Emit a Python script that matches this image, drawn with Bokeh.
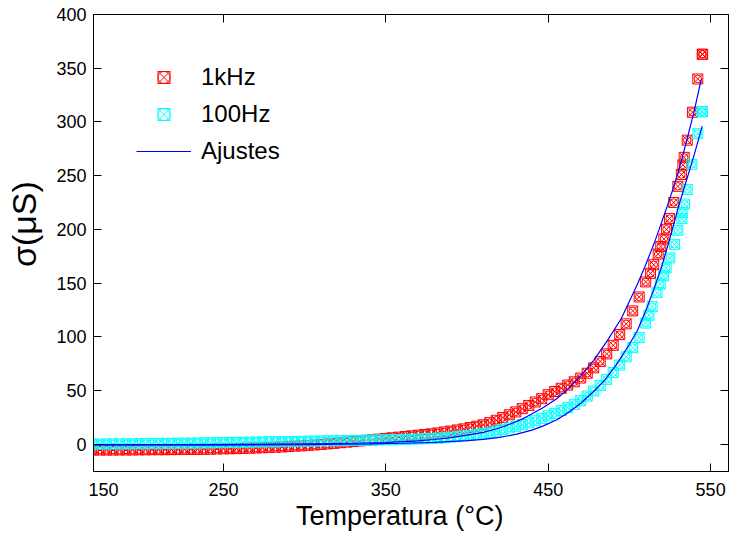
from bokeh.plotting import figure
from bokeh.models import (Range1d, FixedTicker, LinearAxis, Legend, LegendItem,
                          CustomLabelingPolicy)
from bokeh.embed import file_html
from bokeh.resources import INLINE

# ---------------- data ----------------
T_1k = [170, 174, 178, 182, 186, 190, 194, 198, 202, 206, 210, 214, 218, 222, 226, 230,
        234, 238, 242, 246, 250, 254, 258, 262, 266, 270, 274, 278, 282, 286, 290, 294,
        298, 302, 306, 310, 314, 318, 322, 326, 330, 334, 338, 342, 346, 350, 354, 358,
        362, 366, 370, 374, 378, 382, 386, 390, 394, 398, 402, 406, 410, 414, 418, 422,
        426, 430, 434, 438, 442, 446, 450, 454, 458, 462, 466, 470, 474, 478, 482, 486,
        490, 494, 498, 502, 506, 510, 513, 515, 517.7, 519.3, 521.2, 522.8, 524.7, 527.3,
        529.8, 532, 532.9, 533.7, 535.6, 538.8, 542.1, 544.8, 545.1]
S_1k = [-5.5, -5.5, -5.5, -5.5, -5.4, -5.4, -5.4, -5.3, -5.3, -5.2, -5.2, -5.2, -5.1, -5.1, -5.0, -5.0,
        -4.9, -4.8, -4.7, -4.5, -4.4, -4.3, -4.2, -4.0, -3.8, -3.6, -3.4, -3.1, -2.9, -2.6, -2.3, -1.9,
        -1.6, -1.2, -0.8, -0.3, 0.2, 0.7, 1.3, 1.8, 2.4, 2.9, 3.5, 4.1, 4.7, 5.3, 5.9, 6.5,
        7.1, 7.7, 8.3, 9.0, 9.6, 10.4, 11.3, 12.2, 13.2, 14.2, 15.4, 16.7, 18.0, 20.0, 22.2, 24.7,
        27.3, 30.0, 33.0, 36.0, 39.2, 42.3, 46.0, 49.0, 52.0, 55.0, 58.0, 61.5, 66.0, 71.0, 77.0, 84.0,
        92.0, 102.0, 112.0, 124.0, 137.0, 151.0, 159, 167, 177, 184, 191, 200, 210, 225,
        240, 251, 260, 267, 283, 309, 340, 363, 363]

T_100 = [170, 174, 178, 182, 186, 190, 194, 198, 202, 206, 210, 214, 218, 222, 226, 230,
         234, 238, 242, 246, 250, 254, 258, 262, 266, 270, 274, 278, 282, 286, 290, 294,
         298, 302, 306, 310, 314, 318, 322, 326, 330, 334, 338, 342, 346, 350, 354, 358,
         362, 366, 370, 374, 378, 382, 386, 390, 394, 398, 402, 406, 410, 414, 418, 422,
         426, 430, 434, 438, 442, 446, 450, 454, 458, 462, 466, 470, 474, 478, 482, 486,
         490, 494, 498, 502, 506, 510, 512, 514, 517, 519, 521, 522.6, 524.9, 527.8,
         529.8, 532.3, 532.5, 533.9, 535.6, 538.4, 542.1, 544.6, 544.9]
S_100 = [0.0, 0.0, 0.1, 0.1, 0.2, 0.2, 0.3, 0.4, 0.4, 0.5, 0.6, 0.6, 0.7, 0.8, 0.9, 0.9,
         1.0, 1.1, 1.2, 1.3, 1.4, 1.5, 1.6, 1.7, 1.8, 1.9, 2.0, 2.1, 2.2, 2.3, 2.4, 2.5,
         2.6, 2.7, 2.8, 2.9, 3.0, 3.1, 3.2, 3.3, 3.4, 3.5, 3.6, 3.7, 3.9, 4.0, 4.1, 4.2,
         4.4, 4.6, 4.8, 5.0, 5.2, 5.5, 6.0, 6.5, 7.0, 7.6, 8.3, 9.1, 10.0, 11.0, 12.2, 13.6,
         15.0, 16.5, 18.1, 19.9, 21.8, 24.0, 26.3, 28.6, 31.2, 34.0, 37.0, 40.5, 44.7, 49.4, 54.6, 60.3,
         66.6, 73.6, 81.3, 89.8, 99.2, 112.7, 120, 128, 141, 149, 156.6, 164, 173.3, 186,
         199, 210, 215.5, 223.5, 237, 260.5, 289, 309.5, 309.5]

T_fit1 = [170, 250, 300, 330, 350, 370, 380, 390, 400, 410, 420, 427, 435, 447, 455, 462,
          470, 478, 487, 495, 500, 505, 510, 515, 519, 525, 530, 535, 540, 544.2]
S_fit1 = [-0.5, -0.4, 0.2, 0.8, 1.5, 3.0, 4.3, 6.0, 8.3, 11.0, 15.0, 19.0, 24.0, 34.0, 42.0, 51.0,
          63.5, 78.0, 97.7, 117.0, 133.0, 149.0, 167.0, 186.0, 203.0, 229.0, 253.0, 281.0, 311.0, 339.5]

T_fit2 = [170, 250, 300, 340, 360, 380, 400, 410, 420, 430, 440, 447, 455, 462, 470, 478,
          485, 492, 500, 505, 510, 515, 520, 525, 530.4, 535, 540, 544.8]
S_fit2 = [-0.8, -0.8, -0.5, 0.2, 0.8, 1.6, 3.2, 4.5, 6.2, 9.0, 13.0, 17.0, 22.5, 29.0, 38.0, 49.0,
          60.0, 74.0, 93.0, 106.0, 124.0, 144.0, 166.0, 192.0, 222.0, 245.0, 270.0, 296.0]

NB = "\u00a0"
x_ticks = [170, 250, 350, 450, 550]
x_tick_labels = {170: NB * 4 + "150"}
y_ticks = [0, 50, 100, 150, 200, 250, 300, 350, 400]

FONT = "Liberation Sans"
RED = "#FF0000"
CYAN = "#00FFFF"
BLUE = "#0000FF"

p = figure(width=729, height=533, output_backend="svg", toolbar_location=None,
           x_range=Range1d(170, 561), y_range=Range1d(-25.5, 400),
           min_border_left=93, min_border_right=1, min_border_top=14, min_border_bottom=61,
           background_fill_color="white", border_fill_color="white")
p.grid.visible = False
p.outline_line_color = "black"
p.outline_line_width = 1

# data markers: square with a circle and a cross
r1a = p.scatter(T_1k, S_1k, marker="square_x", size=10, fill_color=None, line_color=RED, line_width=1)
r1b = p.scatter(T_1k, S_1k, marker="circle", size=7.5, fill_color=None, line_color=RED, line_width=1)
r2a = p.scatter(T_100, S_100, marker="square_x", size=10, fill_color=None, line_color=CYAN, line_width=1)
r2b = p.scatter(T_100, S_100, marker="circle", size=7.5, fill_color=None, line_color=CYAN, line_width=1)
l1 = p.line(T_fit1, S_fit1, line_color=BLUE, line_width=1.2)
l2 = p.line(T_fit2, S_fit2, line_color=BLUE, line_width=1.2)

def style_axis(ax, labels=True):
    ax.major_tick_in = 8
    ax.major_tick_out = 0
    ax.minor_tick_line_color = None
    ax.axis_line_color = "black"
    ax.major_tick_line_color = "black"
    ax.major_label_text_font = FONT
    ax.major_label_text_font_size = "18px"
    ax.major_label_text_color = "black"
    if not labels:
        ax.major_label_standoff = 0
        ax.major_label_text_font_size = "0px"
        ax.major_label_policy = CustomLabelingPolicy(
            code="for (const i of Array.from(indices)) { indices.unset(i) }\nreturn indices")

xa = p.xaxis[0]
xa.ticker = FixedTicker(ticks=x_ticks)
xa.major_label_overrides = x_tick_labels
style_axis(xa)
xa.major_label_standoff = 8
xa.axis_label = "Temperatura (°C)" + NB * 3
xa.axis_label_text_font = FONT
xa.axis_label_text_font_size = "27px"
xa.axis_label_text_font_style = "normal"
xa.axis_label_text_color = "black"
xa.axis_label_standoff = -2

ya = p.yaxis[0]
ya.ticker = FixedTicker(ticks=y_ticks)
style_axis(ya)
ya.major_label_standoff = 7
ya.axis_label = NB * 4 + "σ(μS)"
ya.axis_label_text_font = FONT
ya.axis_label_text_font_size = "34px"
ya.axis_label_text_font_style = "normal"
ya.axis_label_text_color = "black"
ya.axis_label_standoff = 10

top = LinearAxis(ticker=FixedTicker(ticks=x_ticks))
style_axis(top, labels=False)
p.add_layout(top, "above")
right = LinearAxis(ticker=FixedTicker(ticks=y_ticks))
style_axis(right, labels=False)
p.add_layout(right, "right")

legend = Legend(items=[
    LegendItem(label="1kHz", renderers=[r1a, r1b]),
    LegendItem(label="100Hz", renderers=[r2a, r2b]),
    LegendItem(label="Ajustes", renderers=[l1]),
], location=(43, 305))
legend.label_text_font = FONT
legend.label_text_font_size = "24px"
legend.label_text_color = "black"
legend.glyph_width = 55
legend.glyph_height = 30
legend.label_height = 30
legend.spacing = 7
legend.padding = 0
legend.margin = 0
legend.label_standoff = 10
legend.border_line_color = None
legend.background_fill_alpha = 0
p.add_layout(legend, "center")

open("out.html", "w").write(file_html(p, INLINE))
